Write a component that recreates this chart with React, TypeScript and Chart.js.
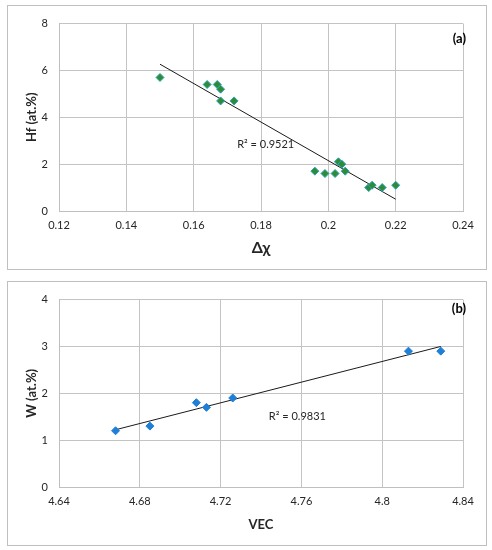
import React, { useEffect, useRef } from "react";
import { Chart, registerables, Plugin } from "chart.js";

Chart.register(...registerables);

// panel (a): Hf content vs electronegativity difference
const deltaChi = [
  0.15, 0.164, 0.167, 0.168, 0.168, 0.172, 0.196, 0.199, 0.202, 0.203, 0.204,
  0.205, 0.212, 0.213, 0.216, 0.22,
];
const hfContent = [
  5.7, 5.4, 5.4, 5.2, 4.7, 4.7, 1.7, 1.6, 1.6, 2.1, 2.0, 1.7, 1.0, 1.1, 1.0,
  1.1,
];
const hfXTicks = [0.12, 0.14, 0.16, 0.18, 0.2, 0.22, 0.24];
const hfYTicks = [0, 2, 4, 6, 8];

// panel (b): W content vs valence electron concentration
const vec = [4.668, 4.685, 4.708, 4.713, 4.726, 4.813, 4.829];
const wContent = [1.2, 1.3, 1.8, 1.7, 1.9, 2.9, 2.9];
const wXTicks = [4.64, 4.68, 4.72, 4.76, 4.8, 4.84];
const wYTicks = [0, 1, 2, 3, 4];

const FONT = "Lato, 'Open Sans', sans-serif";

// least squares fit, endpoints at the data's x range
function trend(xs: number[], ys: number[]) {
  const n = xs.length;
  const mx = xs.reduce((a, b) => a + b, 0) / n;
  const my = ys.reduce((a, b) => a + b, 0) / n;
  let sxy = 0;
  let sxx = 0;
  for (let i = 0; i < n; i++) {
    sxy += (xs[i] - mx) * (ys[i] - my);
    sxx += (xs[i] - mx) ** 2;
  }
  const slope = sxy / sxx;
  const b = my - slope * mx;
  const lo = Math.min(...xs);
  const hi = Math.max(...xs);
  return [
    { x: lo, y: slope * lo + b },
    { x: hi, y: slope * hi + b },
  ];
}

interface PanelProps {
  xs: number[];
  ys: number[];
  xTicks: number[];
  yTicks: number[];
  xTitle: string;
  xTitleSize: number;
  yTitle: string;
  tag: string;
  tagOffset: number;
  r2: string;
  r2At: { x: number; y: number };
  fill: string;
  stroke: string;
  top: number;
  height: number;
}

const Panel: React.FC<PanelProps> = (p) => {
  const canvasRef = useRef<HTMLCanvasElement | null>(null);
  const chartRef = useRef<Chart | null>(null);

  useEffect(() => {
    if (!canvasRef.current) return;
    if (chartRef.current) chartRef.current.destroy();

    const labels: Plugin = {
      id: "labels",
      afterDatasetsDraw(chart) {
        const { ctx, chartArea, scales } = chart;
        ctx.save();
        ctx.fillStyle = "#262626";
        ctx.font = `11px ${FONT}`;
        ctx.textAlign = "center";
        ctx.textBaseline = "middle";
        ctx.fillText(
          p.r2,
          scales.x.getPixelForValue(p.r2At.x),
          scales.y.getPixelForValue(p.r2At.y)
        );
        ctx.font = `bold 13px ${FONT}`;
        ctx.fillStyle = "#000";
        ctx.textAlign = "right";
        ctx.fillText(p.tag, chartArea.right + 3, chartArea.top + p.tagOffset);
        ctx.restore();
      },
    };

    const ctx = canvasRef.current.getContext("2d");
    if (!ctx) return;

    chartRef.current = new Chart(ctx, {
      type: "scatter",
      data: {
        datasets: [
          {
            data: trend(p.xs, p.ys),
            showLine: true,
            borderColor: "#1a1a1a",
            borderWidth: 1,
            pointRadius: 0,
            order: 2,
          },
          {
            data: p.xs.map((x, i) => ({ x, y: p.ys[i] })),
            pointStyle: "rectRot",
            pointRadius: 4,
            backgroundColor: p.fill,
            borderColor: p.stroke,
            borderWidth: 1,
            order: 1,
          },
        ],
      },
      options: {
        animation: false,
        responsive: true,
        maintainAspectRatio: false,
        layout: { padding: { top: 12, right: 23, left: 0, bottom: 0 } },
        plugins: {
          legend: { display: false },
          tooltip: { enabled: false },
        },
        scales: {
          x: {
            type: "linear",
            min: p.xTicks[0],
            max: p.xTicks[p.xTicks.length - 1],
            afterBuildTicks: (s) => {
              s.ticks = p.xTicks.map((value) => ({ value }));
            },
            afterFit: (s) => {
              s.height = 58;
            },
            border: { color: "#bfbfbf" },
            grid: { color: "#c4c4c4", drawTicks: false },
            ticks: {
              padding: 8,
              color: "#262626",
              font: { family: FONT, size: 11 },
              callback: (v) => String(v),
            },
            title: {
              display: true,
              text: p.xTitle,
              color: "#262626",
              font: { family: FONT, size: p.xTitleSize, weight: "bold" },
              padding: { top: 0, bottom: 12 },
            },
          },
          y: {
            type: "linear",
            min: p.yTicks[0],
            max: p.yTicks[p.yTicks.length - 1],
            afterBuildTicks: (s) => {
              s.ticks = p.yTicks.map((value) => ({ value }));
            },
            afterFit: (s) => {
              s.width = 51;
            },
            border: { color: "#bfbfbf" },
            grid: { color: "#c4c4c4", drawTicks: false },
            ticks: {
              padding: 11,
              color: "#262626",
              font: { family: FONT, size: 11 },
            },
            title: {
              display: true,
              text: p.yTitle,
              color: "#262626",
              font: { family: FONT, size: 13, weight: "bold" },
              padding: { top: 16, bottom: 0 },
            },
          },
        },
      },
      plugins: [labels],
    });

    return () => {
      if (chartRef.current) {
        chartRef.current.destroy();
        chartRef.current = null;
      }
    };
  }, [p]);

  return (
    <div
      style={{
        position: "absolute",
        left: 7,
        top: p.top,
        width: 478,
        height: p.height,
        border: "1px solid #bfbfbf",
        background: "#fff",
      }}
    >
      <canvas ref={canvasRef} />
    </div>
  );
};

const panelA: PanelProps = {
  xs: deltaChi,
  ys: hfContent,
  xTicks: hfXTicks,
  yTicks: hfYTicks,
  xTitle: "Δχ",
  xTitleSize: 16,
  yTitle: "Hf (at.%)",
  tag: "(a)",
  tagOffset: 15,
  r2: "R² = 0.9521",
  r2At: { x: 0.1814, y: 2.85 },
  fill: "#2e8b38",
  stroke: "#2aa3b3",
  top: 5,
  height: 263,
};

const panelB: PanelProps = {
  xs: vec,
  ys: wContent,
  xTicks: wXTicks,
  yTicks: wYTicks,
  xTitle: "VEC",
  xTitleSize: 13,
  yTitle: "W (at.%)",
  tag: "(b)",
  tagOffset: 9,
  r2: "R² = 0.9831",
  r2At: { x: 4.758, y: 1.5 },
  fill: "#1f7fd6",
  stroke: "#1f7fd6",
  top: 281,
  height: 263,
};

export default function App() {
  return (
    <div style={{ position: "absolute", left: 0, top: 0, width: 492, height: 550, background: "#fff" }}>
      <Panel {...panelA} />
      <Panel {...panelB} />
    </div>
  );
}
